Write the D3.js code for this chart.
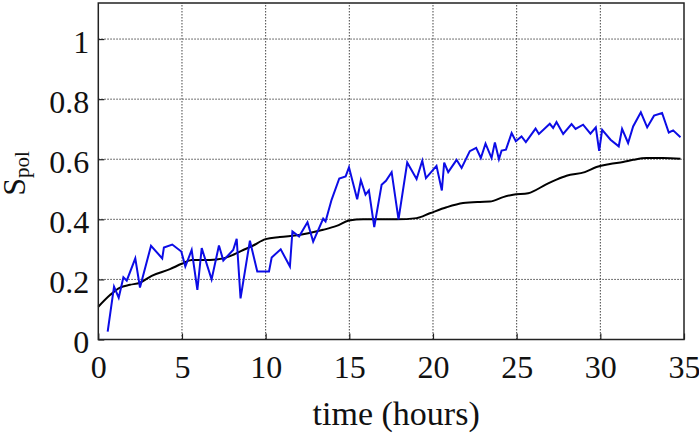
<!DOCTYPE html>
<html>
<head>
<meta charset="utf-8">
<script src="https://cdn.jsdelivr.net/npm/d3@7"></script>
<style>
  html, body { margin: 0; padding: 0; background: #fff; }
  svg { display: block; }
  svg text { font-family: "Liberation Serif", "Tinos", "Times New Roman", "DejaVu Serif", serif; fill: #111; }
</style>
</head>
<body>
<svg id="chart" width="699" height="434"></svg>
<script>
// ---- data ----
const xTicks = [0, 5, 10, 15, 20, 25, 30, 35];
const yTicks = [0, 0.2, 0.4, 0.6, 0.8, 1];
const yTickLabels = ["0", "0.2", "0.4", "0.6", "0.8", "1"];

const blueTime = [0.56,0.94,1.22,1.5,1.7,2.21,2.49,3.15,3.82,3.92,4.42,4.96,5.2,5.58,5.92,6.18,6.77,7.21,7.47,8.06,8.27,8.5,9.06,9.5,10.2,10.36,10.9,11.45,11.6,12.0,12.5,12.84,13.44,13.58,13.94,14.4,14.78,14.98,15.47,15.69,15.97,16.17,16.49,16.93,17.19,17.53,17.94,18.46,19.02,19.36,19.58,20.21,20.53,20.67,20.91,21.41,21.71,22.2,22.58,22.86,23.14,23.5,23.7,23.94,24.1,24.36,24.7,24.95,25.29,25.55,26.13,26.33,26.98,27.18,27.38,27.78,28.28,28.52,28.97,29.41,29.73,29.93,30.11,30.61,31.1,31.3,31.66,31.96,32.42,32.8,33.21,33.69,34.09,34.35,34.79];
const blueValue = [0.026,0.176,0.139,0.207,0.196,0.27,0.173,0.312,0.27,0.306,0.316,0.293,0.243,0.298,0.165,0.304,0.2,0.313,0.263,0.298,0.335,0.137,0.329,0.226,0.226,0.273,0.3,0.243,0.36,0.343,0.39,0.326,0.402,0.393,0.465,0.536,0.543,0.573,0.467,0.53,0.482,0.496,0.374,0.515,0.528,0.557,0.4,0.589,0.534,0.595,0.537,0.578,0.496,0.589,0.557,0.598,0.571,0.627,0.638,0.604,0.652,0.604,0.656,0.6,0.629,0.632,0.687,0.66,0.676,0.657,0.702,0.684,0.718,0.704,0.724,0.684,0.717,0.701,0.715,0.685,0.706,0.628,0.698,0.665,0.643,0.701,0.654,0.709,0.756,0.706,0.745,0.754,0.689,0.696,0.673];

const blackTime = [0,0.7,1.3,1.89,2.49,3.19,4.28,4.98,5.58,6.67,7.47,8.07,8.66,9.16,10.0,10.85,12.0,13.44,14.24,14.98,15.83,17.82,19.02,19.81,20.81,21.8,22.8,23.4,24.19,24.79,25.69,26.79,27.38,27.98,29.07,29.77,30.57,31.36,31.96,32.76,33.75,34.79];
const blackValue = [0.109,0.148,0.173,0.182,0.189,0.212,0.234,0.252,0.265,0.265,0.27,0.282,0.298,0.31,0.334,0.341,0.348,0.365,0.378,0.396,0.4,0.4,0.404,0.42,0.44,0.454,0.458,0.459,0.474,0.482,0.487,0.517,0.532,0.545,0.557,0.574,0.584,0.591,0.598,0.604,0.604,0.602];

// ---- layout ----
const W = 699, H = 434;
const m = { left: 98.3, right: 15, top: 3, bottom: 94.5 };
const FONT = '"Liberation Serif", "Tinos", "Times New Roman", "DejaVu Serif", serif';
const svg = d3.select("#chart");

const x = d3.scaleLinear().domain([0, 35]).range([m.left, W - m.right]);
const y = d3.scaleLinear().domain([0, 1.12]).range([H - m.bottom, m.top]);

// grid
const grid = svg.append("g");
grid.selectAll("line.v").data(xTicks.filter(t => t > 0 && t < 35)).enter().append("line")
  .attr("x1", d => x(d)).attr("x2", d => x(d))
  .attr("y1", y(0)).attr("y2", y(1.12))
  .attr("stroke", "#444").attr("stroke-width", 1).attr("stroke-dasharray", "1.5,1.5");
grid.selectAll("line.h").data(yTicks.filter(t => t > 0)).enter().append("line")
  .attr("x1", x(0)).attr("x2", x(35))
  .attr("y1", d => y(d)).attr("y2", d => y(d))
  .attr("stroke", "#444").attr("stroke-width", 1).attr("stroke-dasharray", "1.5,1.5");

// axes (inward ticks, labels)
const xAxis = d3.axisBottom(x).tickValues(xTicks).tickSizeInner(-6).tickSizeOuter(0).tickPadding(14).tickFormat(d3.format("d"));
const gx = svg.append("g").attr("transform", `translate(0,${y(0)})`).call(xAxis)
  .attr("font-family", FONT);
gx.select(".domain").remove();
gx.selectAll(".tick line").attr("stroke", "#222").attr("stroke-width", 1.2);
gx.selectAll(".tick text").attr("font-size", 32).style("font-family", FONT)
  .attr("fill", "#111").attr("dy", null).attr("y", 38.5);

const yAxis = d3.axisLeft(y).tickValues(yTicks).tickSizeInner(-6).tickSizeOuter(0).tickPadding(9)
  .tickFormat((d, i) => yTickLabels[i]);
const gy = svg.append("g").attr("transform", `translate(${x(0)},0)`).call(yAxis)
  .attr("font-family", FONT);
gy.select(".domain").remove();
gy.selectAll(".tick line").attr("stroke", "#222").attr("stroke-width", 1.2);
gy.selectAll(".tick text").attr("font-size", 32).style("font-family", FONT)
  .attr("fill", "#111").attr("dy", null).attr("y", 13).attr("x", -9);

// lines
const blueData = blueTime.map((t, i) => [t, blueValue[i]]);
const blackData = blackTime.map((t, i) => [t, blackValue[i]]);

svg.append("path").datum(blackData)
  .attr("fill", "none").attr("stroke", "#000").attr("stroke-width", 2)
  .attr("d", d3.line().x(d => x(d[0])).y(d => y(d[1])).curve(d3.curveMonotoneX));

svg.append("path").datum(blueData)
  .attr("fill", "none").attr("stroke", "#0c0ce6").attr("stroke-width", 2).attr("stroke-linejoin", "miter")
  .attr("d", d3.line().x(d => x(d[0])).y(d => y(d[1])));

// frame
svg.append("rect")
  .attr("x", x(0)).attr("y", y(1.12))
  .attr("width", x(35) - x(0)).attr("height", y(0) - y(1.12))
  .attr("fill", "none").attr("stroke", "#222").attr("stroke-width", 1.5);

// axis labels
svg.append("text")
  .attr("x", (x(0) + x(35)) / 2 + 5).attr("y", 425)
  .attr("text-anchor", "middle").attr("font-size", 34).style("font-family", FONT)
  .text("time (hours)");

const yl = svg.append("text")
  .attr("transform", `translate(25,${173.5}) rotate(-90)`)
  .attr("text-anchor", "middle").attr("font-size", 32).style("font-family", FONT);
yl.append("tspan").text("S");
yl.append("tspan").attr("font-size", 21).attr("dy", 4).text("pol");
</script>
</body>
</html>
